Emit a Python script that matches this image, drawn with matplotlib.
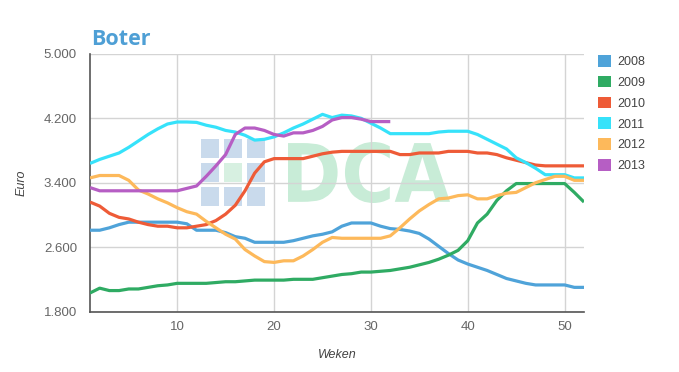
import numpy as np
import matplotlib
matplotlib.use("Agg")
import matplotlib.pyplot as plt
import matplotlib.transforms as mtransforms
from matplotlib.patches import Patch, PathPatch, Rectangle
from matplotlib.textpath import TextPath
from matplotlib.font_manager import FontProperties

# ---------------------------------------------------------------------------
# Data (weekly butter prices, euro)
# ---------------------------------------------------------------------------
weeks = np.arange(1, 53)

y2008 = [2.81, 2.81, 2.84, 2.88, 2.91, 2.91, 2.91, 2.91, 2.91, 2.91,
         2.89, 2.81, 2.81, 2.81, 2.78, 2.73, 2.71, 2.66, 2.66, 2.66,
         2.66, 2.68, 2.71, 2.74, 2.76, 2.79, 2.86, 2.90, 2.90, 2.90,
         2.86, 2.83, 2.82, 2.80, 2.77, 2.70, 2.61, 2.52, 2.44, 2.39,
         2.35, 2.31, 2.26, 2.21, 2.18, 2.15, 2.13, 2.13, 2.13, 2.13,
         2.10, 2.10]
y2009 = [2.03, 2.09, 2.06, 2.06, 2.08, 2.08, 2.10, 2.12, 2.13, 2.15,
         2.15, 2.15, 2.15, 2.16, 2.17, 2.17, 2.18, 2.19, 2.19, 2.19,
         2.19, 2.20, 2.20, 2.20, 2.22, 2.24, 2.26, 2.27, 2.29, 2.29,
         2.30, 2.31, 2.33, 2.35, 2.38, 2.41, 2.45, 2.50, 2.56, 2.68,
         2.90, 3.01, 3.18, 3.30, 3.39, 3.39, 3.39, 3.39, 3.39, 3.39,
         3.28, 3.16]
y2010 = [3.16, 3.11, 3.02, 2.97, 2.95, 2.91, 2.88, 2.86, 2.86, 2.84,
         2.84, 2.86, 2.88, 2.93, 3.01, 3.12, 3.30, 3.52, 3.66, 3.70,
         3.70, 3.70, 3.70, 3.73, 3.76, 3.78, 3.79, 3.79, 3.79, 3.79,
         3.79, 3.79, 3.75, 3.75, 3.77, 3.77, 3.77, 3.79, 3.79, 3.79,
         3.77, 3.77, 3.75, 3.71, 3.68, 3.65, 3.62, 3.61, 3.61, 3.61,
         3.61, 3.61]
y2011 = [3.64, 3.69, 3.73, 3.77, 3.84, 3.92, 4.00, 4.07, 4.13, 4.155,
         4.155, 4.15, 4.115, 4.09, 4.05, 4.03, 3.99, 3.93, 3.94, 3.97,
         4.02, 4.08, 4.13, 4.19, 4.25, 4.21, 4.24, 4.23, 4.20, 4.14,
         4.08, 4.01, 4.01, 4.01, 4.01, 4.01, 4.03, 4.04, 4.04, 4.04,
         4.00, 3.94, 3.88, 3.82, 3.71, 3.65, 3.58, 3.50, 3.50, 3.50,
         3.46, 3.46]
y2012 = [3.46, 3.49, 3.49, 3.49, 3.43, 3.31, 3.26, 3.20, 3.15, 3.09,
         3.04, 3.01, 2.92, 2.84, 2.76, 2.70, 2.57, 2.49, 2.42, 2.41,
         2.43, 2.43, 2.49, 2.57, 2.66, 2.72, 2.71, 2.71, 2.71, 2.71,
         2.71, 2.74, 2.84, 2.95, 3.05, 3.13, 3.20, 3.21, 3.24, 3.25,
         3.20, 3.20, 3.24, 3.27, 3.28, 3.34, 3.40, 3.44, 3.48, 3.48,
         3.43, 3.43]
y2013 = [3.34, 3.30, 3.30, 3.30, 3.30, 3.30, 3.30, 3.30, 3.30, 3.30,
         3.33, 3.36, 3.48, 3.61, 3.75, 4.00, 4.08, 4.08, 4.05, 4.00,
         3.98, 4.02, 4.02, 4.05, 4.10, 4.18, 4.21, 4.21, 4.19, 4.16,
         4.16, 4.16]

years = ["2008", "2009", "2010", "2011", "2012", "2013"]
series = [y2008, y2009, y2010, y2011, y2012, y2013]
colors = ["#4fa3d9", "#2fab63", "#ee5b37", "#36e2fa", "#fdb95b", "#b65ec4"]

y_ticks = [1.8, 2.6, 3.4, 4.2, 5.0]
x_ticks = [10, 20, 30, 40, 50]

# ---------------------------------------------------------------------------
W, H = 679, 372
fig = plt.figure(figsize=(W / 100, H / 100), dpi=100)
ax = fig.add_axes([90 / W, 1 - 311.5 / H, 494 / W, 257.5 / H])
ax.set_autoscale_on(False)


def fx(px):
    return px / W


def fy(py):
    return 1 - py / H


# watermark: tile icon + "DCA"
tile_x = [201, 224, 247]
tile_y = [139, 163, 187]
for i, tx in enumerate(tile_x):
    for j, ty in enumerate(tile_y):
        c = "#d7f0e1" if (i == 1 and j == 1) else "#c9daec"
        ax.add_patch(Rectangle((fx(tx), fy(ty + 19)), 18 / W, 19 / H,
                               transform=fig.transFigure, color=c, lw=0,
                               zorder=0.5))

tp = TextPath((0, 0), "DCA", size=100,
              prop=FontProperties(family="DejaVu Sans", weight="bold"))
ext = tp.get_extents()
tr = (mtransforms.Affine2D()
      .translate(-ext.x0, -ext.y0)
      .scale((162 / W) / ext.width, (61 / H) / ext.height)
      .translate(fx(288), fy(203)))
ax.add_patch(PathPatch(tp, transform=tr + fig.transFigure,
                       color="#c8ecd7", lw=0, zorder=0.5))

for yr, vals, col in zip(years, series, colors):
    ax.plot(weeks[:len(vals)], vals, color=col, lw=2.3, zorder=3,
            solid_joinstyle="round", solid_capstyle="butt")

ax.set_xlim(1, 52)
ax.set_ylim(1.8, 5.0)
ax.set_xticks(x_ticks)
ax.set_yticks(y_ticks)
ax.set_yticklabels([f"{v:.3f}" for v in y_ticks])
ax.grid(True, color="#d4d4d4", lw=1)
ax.set_axisbelow(True)
ax.tick_params(length=0, labelsize=9.5, labelcolor="#666666")
ax.tick_params(axis="y", pad=9.4)
ax.tick_params(axis="x", pad=7)
for lab in ax.get_xticklabels() + ax.get_yticklabels():
    lab.set_family("Liberation Sans")

for s in ["top", "right"]:
    ax.spines[s].set_visible(False)
for s in ["left", "bottom"]:
    ax.spines[s].set_color("#555555")
    ax.spines[s].set_linewidth(1.2)

ax.set_xlabel("Weken", fontsize=9, style="italic", color="#444444",
              family="Liberation Sans")
ax.xaxis.set_label_coords(0.5, -0.145)
ax.set_ylabel("Euro", fontsize=9, style="italic", color="#444444",
              family="Liberation Sans")
ax.yaxis.set_label_coords(-0.126, 0.5)

fig.text(fx(91), fy(45), "Boter", fontsize=15.5, fontweight="bold",
         color="#4e9fd5", family="Open Sans", va="baseline", ha="left")

handles = [Patch(facecolor=c, edgecolor="none") for c in colors]
leg = fig.legend(handles, years, loc="upper left",
                 bbox_to_anchor=(fx(588), fy(45)), frameon=False,
                 prop={"family": "Liberation Sans", "size": 9},
                 handlelength=1.05, handleheight=1.05, handletextpad=0.5,
                 labelspacing=0.62, borderpad=0.3)
for t in leg.get_texts():
    t.set_color("#444444")

fig.savefig("out.png", dpi=100)
